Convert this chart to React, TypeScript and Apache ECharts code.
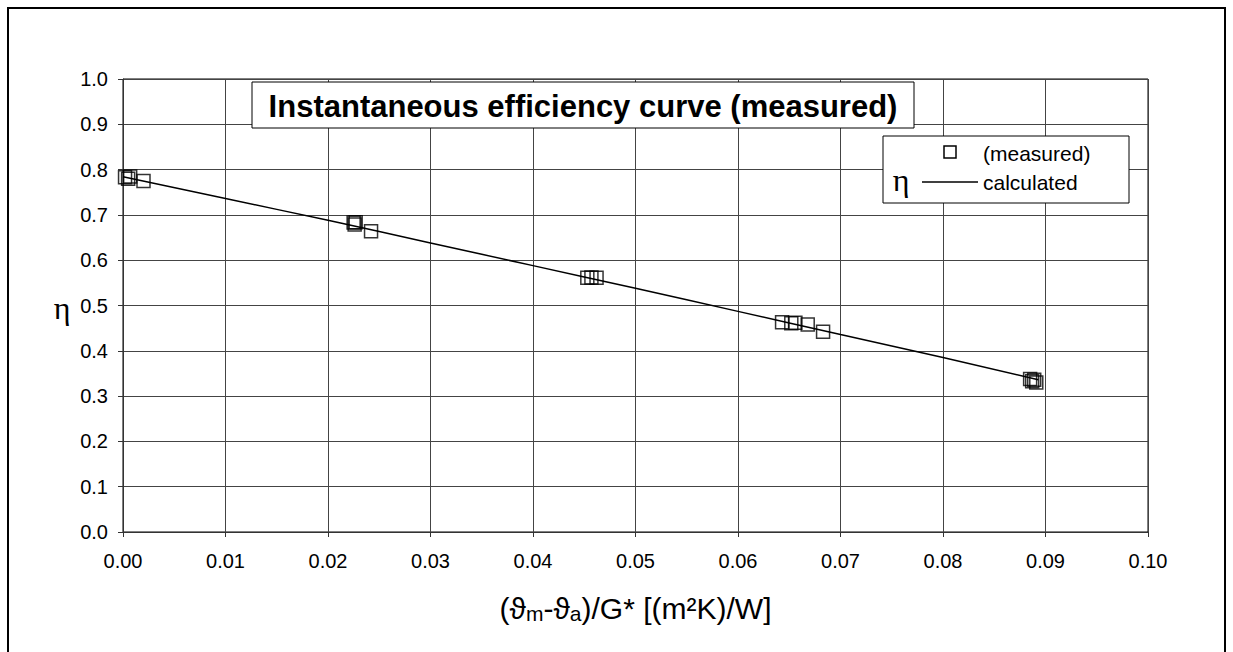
import React, { useEffect, useRef } from "react";
import * as echarts from "echarts";

// Measured points (x = (ϑm-ϑa)/G*, y = η)
const measuredX = [0.0002, 0.0005, 0.0007, 0.0020, 0.0225, 0.0226, 0.0227, 0.0242, 0.0453, 0.0457, 0.0462, 0.0643, 0.0652, 0.0656, 0.0668, 0.0683, 0.0885, 0.0887, 0.0889, 0.0891];
const measuredY = [0.783, 0.780, 0.785, 0.775, 0.683, 0.679, 0.684, 0.664, 0.561, 0.562, 0.561, 0.463, 0.461, 0.462, 0.458, 0.442, 0.338, 0.333, 0.336, 0.330];

// Calculated efficiency curve
const calcX = [0, 0.01, 0.02, 0.03, 0.04, 0.05, 0.06, 0.07, 0.08, 0.0893];
const calcY = [0.784, 0.736, 0.688, 0.638, 0.588, 0.538, 0.487, 0.436, 0.385, 0.336];

const titleText = "Instantaneous efficiency curve (measured)";
const legendMeasured = "(measured)";
const legendCalculated = "calculated";
const yAxisName = "η";

const FONT = "'Liberation Sans', Arial, sans-serif";
const SERIF = "'Liberation Serif', 'Times New Roman', serif";

export default function App() {
  const ref = useRef<HTMLDivElement>(null);
  useEffect(() => {
    if (!ref.current) return;
    const chart = echarts.init(ref.current, undefined, { renderer: "svg" });
    const measured = measuredX.map((x, i) => [x, measuredY[i]]);
    const calc = calcX.map((x, i) => [x, calcY[i]]);
    chart.setOption({
      animation: false,
      backgroundColor: "#fff",
      grid: { left: 123, right: 85, top: 79, bottom: 120, show: true, borderColor: "#000", borderWidth: 1 },
      xAxis: {
        type: "value",
        min: 0,
        max: 0.1,
        interval: 0.01,
        name: "{p|(ϑ}{s|m}{p|-ϑ}{s|a}{p|)/G* [(m²K)/W]}",
        nameLocation: "middle",
        nameGap: 60,
        nameTextStyle: {
          rich: {
            p: { fontFamily: FONT, fontSize: 30, color: "#000", lineHeight: 32 },
            s: { fontFamily: FONT, fontSize: 21, color: "#000", lineHeight: 32, padding: [10, 0, 0, 0] },
          },
        },
        axisLine: { show: true, lineStyle: { color: "#333", width: 1 } },
        axisTick: { show: true, length: 5, lineStyle: { color: "#333" } },
        axisLabel: { formatter: (v: number) => v.toFixed(2), color: "#000", fontFamily: FONT, fontSize: 20, margin: 19 },
        splitLine: { show: true, lineStyle: { color: "#444", width: 1 } },
      },
      yAxis: {
        type: "value",
        min: 0,
        max: 1,
        interval: 0.1,
        axisLine: { show: true, lineStyle: { color: "#333", width: 1 } },
        axisTick: { show: true, length: 5, lineStyle: { color: "#333" } },
        axisLabel: { formatter: (v: number) => v.toFixed(1), color: "#000", fontFamily: FONT, fontSize: 20, margin: 15 },
        splitLine: { show: true, lineStyle: { color: "#444", width: 1 } },
      },
      series: [
        {
          name: "calculated",
          type: "line",
          data: calc,
          smooth: true,
          showSymbol: false,
          lineStyle: { color: "#000", width: 1.5 },
          z: 3,
        },
        {
          name: "(measured)",
          type: "scatter",
          data: measured,
          symbol: "rect",
          symbolSize: 13,
          itemStyle: { color: "rgba(0,0,0,0)", borderColor: "#000", borderWidth: 1.5 },
          z: 4,
        },
      ],
      graphic: [
        { type: "rect", shape: { x: 8, y: 8, width: 1217, height: 700 }, style: { fill: "none", stroke: "#000", lineWidth: 2 }, z: 100, silent: true },
        { type: "text", x: 62, y: 308, style: { text: yAxisName, font: `32px ${SERIF}`, fill: "#000", textAlign: "center", textVerticalAlign: "middle" }, z: 100 },
        { type: "rect", shape: { x: 252, y: 82, width: 662, height: 46 }, style: { fill: "#fff", stroke: "#000", lineWidth: 1 }, z: 100 },
        { type: "text", x: 583, y: 106, style: { text: titleText, font: `bold 31px ${FONT}`, fill: "#000", textAlign: "center", textVerticalAlign: "middle" }, z: 101 },
        { type: "rect", shape: { x: 883, y: 136, width: 246, height: 67 }, style: { fill: "#fff", stroke: "#000", lineWidth: 1 }, z: 100 },
        { type: "rect", shape: { x: 944, y: 146, width: 12, height: 12 }, style: { fill: "none", stroke: "#000", lineWidth: 1.5 }, z: 101 },
        { type: "text", x: 983, y: 153, style: { text: legendMeasured, font: `21px ${FONT}`, fill: "#000", textAlign: "left", textVerticalAlign: "middle" }, z: 101 },
        { type: "text", x: 901, y: 180, style: { text: yAxisName, font: `32px ${SERIF}`, fill: "#000", textAlign: "center", textVerticalAlign: "middle" }, z: 101 },
        { type: "line", shape: { x1: 922, y1: 182, x2: 978, y2: 182 }, style: { stroke: "#000", lineWidth: 1.5 }, z: 101 },
        { type: "text", x: 983, y: 182, style: { text: legendCalculated, font: `21px ${FONT}`, fill: "#000", textAlign: "left", textVerticalAlign: "middle" }, z: 101 },
      ],
    });
    return () => chart.dispose();
  }, []);
  return <div ref={ref} style={{ position: "absolute", left: 0, top: 0, width: 1233, height: 652 }} />;
}
